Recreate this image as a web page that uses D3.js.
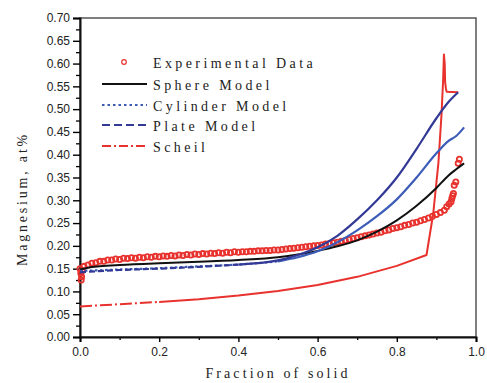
<!DOCTYPE html>
<html>
<head>
<meta charset="utf-8">
<script src="https://cdn.jsdelivr.net/npm/d3@7"></script>
<style>
  body { margin: 0; background: #fff; }
  svg { display: block; }
  .tick text { font-family: "Liberation Sans", Arial, sans-serif; font-size: 12px; fill: #222; }
  .serif { font-family: "Liberation Serif", "Times New Roman", serif; fill: #222; }
</style>
</head>
<body>
<svg id="chart" width="487" height="383"></svg>
<script>
const W = 487;
const H = 383;
const LEFT = 80, RIGHT = 476, TOP = 18, BOTTOM = 337;

// experimental data (red circles)
const expX = [0, 0.002, 0.003, 0.004, 0.006, 0.01, 0.02, 0.03, 0.04, 0.05, 0.06, 0.07, 0.08, 0.09,
  0.10, 0.11, 0.12, 0.13, 0.14, 0.15, 0.16, 0.17, 0.18, 0.19, 0.20, 0.21, 0.22, 0.23, 0.24,
  0.25, 0.26, 0.27, 0.28, 0.29, 0.30, 0.31, 0.32, 0.33, 0.34, 0.35, 0.36, 0.37, 0.38, 0.39,
  0.40, 0.41, 0.42, 0.43, 0.44, 0.45, 0.46, 0.47, 0.48, 0.49, 0.50, 0.51, 0.52, 0.53, 0.54,
  0.55, 0.56, 0.57, 0.58, 0.59, 0.60, 0.61, 0.62, 0.63, 0.64, 0.65, 0.66, 0.67, 0.68, 0.69,
  0.70, 0.71, 0.72, 0.73, 0.74, 0.75, 0.76, 0.77, 0.78, 0.79, 0.80, 0.81, 0.82, 0.83, 0.84,
  0.85, 0.86, 0.87, 0.88, 0.89, 0.90, 0.91, 0.92, 0.926, 0.932, 0.937, 0.939, 0.941, 0.943,
  0.945, 0.949, 0.955, 0.958];
const expY = [0.150, 0.140, 0.125, 0.132, 0.146, 0.155, 0.158, 0.162, 0.163, 0.166, 0.166, 0.169, 0.169, 0.171,
  0.170, 0.173, 0.172, 0.174, 0.173, 0.175, 0.174, 0.176, 0.175, 0.177, 0.176, 0.178, 0.177, 0.179, 0.178,
  0.180, 0.179, 0.181, 0.180, 0.182, 0.181, 0.183, 0.182, 0.184, 0.183, 0.185, 0.184, 0.186, 0.185, 0.187,
  0.186, 0.187, 0.187, 0.188, 0.188, 0.189, 0.189, 0.190, 0.190, 0.191, 0.191, 0.192, 0.193, 0.194, 0.195,
  0.196, 0.197, 0.198, 0.199, 0.200, 0.201, 0.202, 0.204, 0.205, 0.207, 0.208, 0.210, 0.212, 0.214, 0.216,
  0.218, 0.220, 0.222, 0.224, 0.226, 0.228, 0.230, 0.233, 0.235, 0.238, 0.240, 0.242, 0.245, 0.247, 0.250,
  0.252, 0.255, 0.258, 0.261, 0.265, 0.269, 0.273, 0.278, 0.286, 0.292, 0.297, 0.304, 0.310, 0.315,
  0.333, 0.340, 0.381, 0.390];

// model curves
const sphereX = [0, 0.02, 0.05, 0.1, 0.2, 0.3, 0.4, 0.5, 0.55, 0.6, 0.65, 0.7, 0.75, 0.8, 0.85, 0.9, 0.93, 0.95, 0.97];
const sphereY = [0.148, 0.152, 0.155, 0.158, 0.162, 0.165, 0.169, 0.175, 0.181, 0.189, 0.199, 0.212, 0.231, 0.256, 0.288, 0.327, 0.354, 0.368, 0.381];

const cylX = [0, 0.1, 0.2, 0.3, 0.4, 0.5, 0.55, 0.6, 0.65, 0.7, 0.75, 0.8, 0.85, 0.9, 0.93, 0.95, 0.97];
const cylY = [0.145, 0.148, 0.151, 0.155, 0.159, 0.166, 0.175, 0.188, 0.208, 0.234, 0.265, 0.302, 0.350, 0.403, 0.430, 0.441, 0.460];

const plateX = [0, 0.1, 0.2, 0.3, 0.4, 0.5, 0.55, 0.6, 0.65, 0.7, 0.75, 0.8, 0.85, 0.9, 0.93, 0.955];
const plateY = [0.142, 0.147, 0.150, 0.154, 0.159, 0.168, 0.180, 0.197, 0.222, 0.258, 0.300, 0.350, 0.413, 0.480, 0.515, 0.537];

const scheilX = [0, 0.1, 0.2, 0.3, 0.4, 0.5, 0.6, 0.7, 0.8, 0.875, 0.892, 0.905, 0.913, 0.917, 0.919, 0.921, 0.922, 0.924, 0.926, 0.955];
const scheilY = [0.067, 0.072, 0.077, 0.083, 0.091, 0.101, 0.114, 0.132, 0.156, 0.180, 0.271, 0.381, 0.490, 0.564, 0.620, 0.600, 0.560, 0.545, 0.538, 0.537];

const xTicks = [0, 0.2, 0.4, 0.6, 0.8, 1.0];
const yTicks = [0, 0.05, 0.1, 0.15, 0.2, 0.25, 0.3, 0.35, 0.4, 0.45, 0.5, 0.55, 0.6, 0.65, 0.7];

const RED = '#e8322e';
const NAVY = '#333a96';
const BLUE = '#3c5cb8';

const svg = d3.select('#chart');

const xScale = d3.scaleLinear().domain([0, 1]).range([LEFT, RIGHT]);
const yScale = d3.scaleLinear().domain([0, 0.7]).range([BOTTOM, TOP]);

// frame
svg.append('rect')
    .attr('x', LEFT).attr('y', TOP)
    .attr('width', RIGHT - LEFT).attr('height', BOTTOM - TOP)
    .attr('fill', 'none').attr('stroke', '#555').attr('stroke-width', 1.5);

// minor ticks
svg.append('g')
    .attr('transform', 'translate(0,' + BOTTOM + ')')
    .call(d3.axisBottom(xScale).tickValues(d3.range(0.1, 1, 0.2)).tickSize(3).tickFormat(''))
    .call(g => g.select('.domain').remove())
    .selectAll('line').attr('stroke-width', 1.3);
svg.append('g')
    .attr('transform', 'translate(' + LEFT + ',0)')
    .call(d3.axisLeft(yScale).tickValues(d3.range(0.025, 0.7, 0.05)).tickSize(4).tickFormat(''))
    .call(g => g.select('.domain').remove())
    .selectAll('line').attr('stroke-width', 1.3);

// major axes
const xAxis = svg.append('g')
    .attr('transform', 'translate(0,' + BOTTOM + ')')
    .call(d3.axisBottom(xScale).tickValues(xTicks).tickSize(5).tickPadding(5).tickFormat(d3.format('.1f')));
const yAxis = svg.append('g')
    .attr('transform', 'translate(' + LEFT + ',0)')
    .call(d3.axisLeft(yScale).tickValues(yTicks).tickSize(7).tickPadding(3).tickFormat(d3.format('.2f')));
[xAxis, yAxis].forEach(a => {
    a.select('.domain').attr('stroke', '#111').attr('stroke-width', 2);
    a.selectAll('.tick line').attr('stroke-width', 1.4);
});

const smooth = d3.line().x(d => xScale(d[0])).y(d => yScale(d[1])).curve(d3.curveMonotoneX);
const straight = d3.line().x(d => xScale(d[0])).y(d => yScale(d[1]));
const zip = (xs, ys) => xs.map((x, i) => [x, ys[i]]);

// draw a series with a dashed start and solid remainder
function drawSeries(xs, ys, color, width, dash, splitAt, line) {
    const pts = zip(xs, ys);
    const head = pts.filter(p => p[0] <= splitAt);
    const start = head.length ? head[head.length - 1][0] : -1;
    const tail = pts.filter(p => p[0] >= start);
    if (head.length > 1) {
        svg.append('path').attr('d', line(head)).attr('fill', 'none')
            .attr('stroke', color).attr('stroke-width', width).attr('stroke-dasharray', dash);
    }
    svg.append('path').attr('d', line(tail)).attr('fill', 'none')
        .attr('stroke', color).attr('stroke-width', width).attr('stroke-linejoin', 'round');
}

drawSeries(scheilX, scheilY, RED, 2, '12,3,2,3', 0.2, straight);

svg.append('g').selectAll('circle')
    .data(zip(expX, expY))
    .enter()
    .append('circle')
    .attr('cx', d => xScale(d[0]))
    .attr('cy', d => yScale(d[1]))
    .attr('r', 2.6)
    .attr('fill', 'none')
    .attr('stroke', RED)
    .attr('stroke-width', 1.8);

drawSeries(sphereX, sphereY, '#111', 2, null, -1, smooth);
drawSeries(cylX, cylY, BLUE, 2.2, '2.5,2.5', 0.5, smooth);
drawSeries(plateX, plateY, NAVY, 2.2, '6,3', 0.4, smooth);

// legend
const legendRows = ['Experimental Data', 'Sphere Model', 'Cylinder Model', 'Plate Model', 'Scheil'];
const legendY = [62, 84, 105, 125, 146];
const legendStyle = [
    null,
    { c: '#111', d: null },
    { c: BLUE, d: '2.5,3' },
    { c: NAVY, d: '8,4' },
    { c: RED, d: '9,3,2,3' }
];
legendRows.forEach((t, i) => {
    const y = legendY[i];
    if (i === 0) {
        svg.append('circle').attr('cx', 124).attr('cy', y).attr('r', 2.3)
            .attr('fill', 'none').attr('stroke', RED).attr('stroke-width', 1.2);
    } else {
        svg.append('line').attr('x1', 102).attr('x2', 147).attr('y1', y).attr('y2', y)
            .attr('stroke', legendStyle[i].c).attr('stroke-width', 2)
            .attr('stroke-dasharray', legendStyle[i].d);
    }
    svg.append('text').attr('class', 'serif')
        .attr('x', 153).attr('y', y + 6)
        .attr('font-size', 14).attr('letter-spacing', 3.4)
        .text(t);
});

// axis titles
svg.append('text').attr('class', 'serif')
    .attr('x', (LEFT + RIGHT) / 2).attr('y', 378)
    .attr('text-anchor', 'middle')
    .attr('font-size', 14).attr('letter-spacing', 3.1)
    .text('Fraction of solid');

svg.append('text').attr('class', 'serif')
    .attr('transform', 'rotate(-90)')
    .attr('x', -199).attr('y', 27)
    .attr('text-anchor', 'middle')
    .attr('font-size', 14).attr('letter-spacing', 2.8)
    .text('Magnesium, at%');
</script>
</body>
</html>
